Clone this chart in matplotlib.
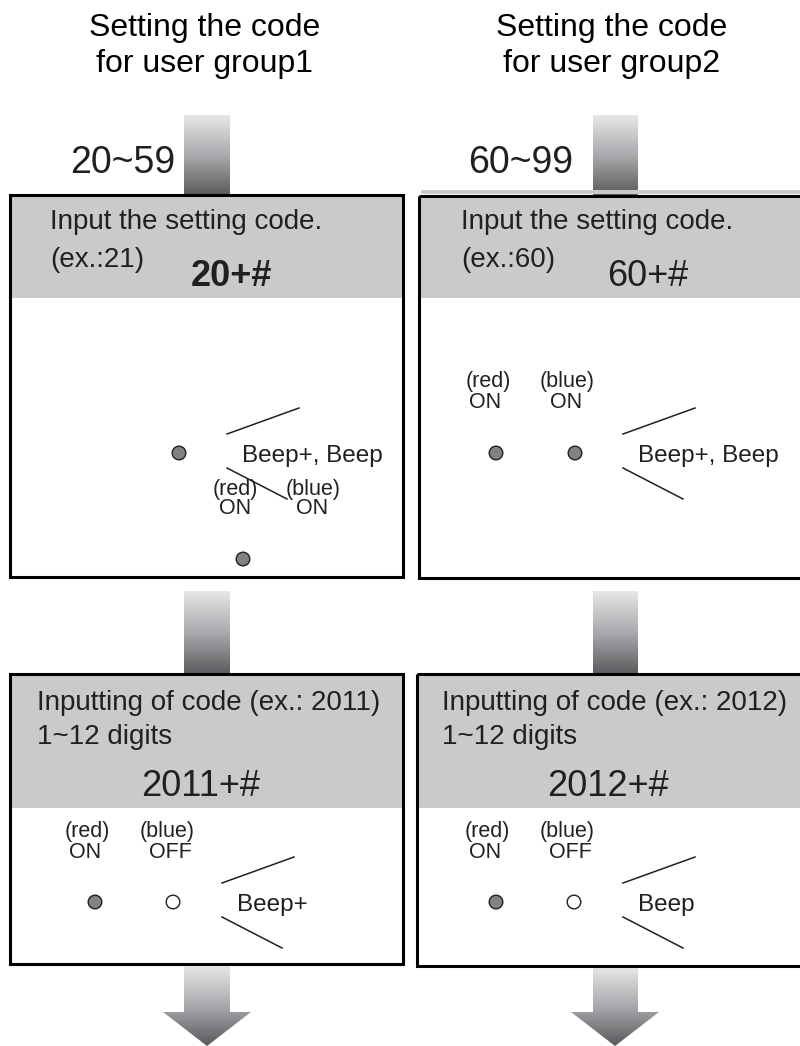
import matplotlib.pyplot as plt
import numpy as np
from matplotlib.patches import Rectangle, Polygon, Circle
from matplotlib.colors import LinearSegmentedColormap

# Texts of the two flows (group1 left, group2 right)
titles = ["Setting the code\nfor user group1", "Setting the code\nfor user group2"]
code_ranges = ["20~59", "60~99"]
step1_prompt = ["Input the setting code.", "Input the setting code."]
step1_example = ["(ex.:21)", "(ex.:60)"]
step1_keys = ["20+#", "60+#"]
step1_sound = ["Beep+, Beep", "Beep+, Beep"]
step2_prompt = ["Inputting of code (ex.: 2011)", "Inputting of code (ex.: 2012)"]
step2_digits = ["1~12 digits", "1~12 digits"]
step2_keys = ["2011+#", "2012+#"]
step2_sound = ["Beep+", "Beep"]
led_names = ["(red)", "(blue)"]
step1_led = [["ON", "ON"], ["ON", "ON"]]
step2_led = [["ON", "OFF"], ["ON", "OFF"]]

TXT = '#231f20'
HEAD = '#c8cacc'
FONT = ['Liberation Sans', 'DejaVu Sans']
grad_cmap = LinearSegmentedColormap.from_list('arrow', ['#e6e7e8', '#a7a9ac', '#58595b'])

fig = plt.figure(figsize=(8, 10.46), dpi=100)
ax = fig.add_axes([0, 0, 1, 1])
ax.axis('off')


def gradient_shape(verts):
    """Fill a polygon with a vertical light-to-dark gradient"""
    poly = Polygon(verts, closed=True, fc='none', ec='none')
    ax.add_patch(poly)
    xs = [v[0] for v in verts]
    ys = [v[1] for v in verts]
    grad = np.linspace(0, 1, 256).reshape(-1, 1)
    im = ax.imshow(grad, cmap=grad_cmap, aspect='auto', zorder=1,
                   extent=(min(xs), max(xs), max(ys), min(ys)))
    im.set_clip_path(poly)


def stem(x0, x1, y0, y1):
    gradient_shape([(x0, y0), (x1, y0), (x1, y1), (x0, y1)])


def down_arrow(x0, x1, hx0, hx1, y0, yh, y1):
    cx = (hx0 + hx1) / 2
    gradient_shape([(x0, y0), (x1, y0), (x1, yh), (hx1, yh), (cx, y1),
                    (hx0, yh), (x0, yh)])


def panel(x0, x1, y0, y1, yh):
    ax.add_patch(Rectangle((x0, y0), x1 - x0, yh - y0, fc=HEAD, ec='none', zorder=2))
    ax.add_patch(Rectangle((x0, y0), x1 - x0, y1 - y0, fc='none', ec='black',
                           lw=2.2, zorder=4))


def led(x, y, state):
    fc = '#808285' if state == 'ON' else 'white'
    ax.add_patch(Circle((x, y), 6.8, fc=fc, ec='#231f20', lw=1.0, zorder=5))


def beep(x, y, label):
    ax.plot([x, x + 72], [y - 22, y - 48], color=TXT, lw=1.1, zorder=5)
    ax.plot([x, x + 60], [y + 12, y + 43], color=TXT, lw=1.1, zorder=5)
    ax.text(x + 15, y, label, fontsize=17.5, color=TXT, family=FONT,
            ha='left', va='center', zorder=6)


def say(x, y, s, size, ha='left', **kw):
    ax.text(x, y, s, fontsize=size, color=TXT, family=FONT, ha=ha, va='center',
            zorder=6, **kw)


# titles
for cx, t in zip([205, 612], titles):
    ax.text(cx, 46, t, fontsize=23, color='black', ha='center', va='center',
            linespacing=1.3, family=FONT)

# arrows into the first panels
stem(184, 230, 115, 196)
stem(593, 638, 115, 196)
say(70, 163, code_ranges[0], 27)
say(468, 163, code_ranges[1], 27)

# light strip above right panel
ax.add_patch(Rectangle((421, 190), 390, 4, fc='#c8cacc', ec='none', zorder=1))

# step 1 panels
panel(10, 403, 195, 577, 298)
panel(419, 812, 196, 578, 298)

say(50, 222, step1_prompt[0], 20)
say(50, 260, step1_example[0], 20)
say(231, 276, step1_keys[0], 26, ha='center', fontweight='bold')
say(461, 222, step1_prompt[1], 20)
say(461, 260, step1_example[1], 20)
say(648, 276, step1_keys[1], 26, ha='center')

# group1 step1 body (as drawn in the original)
say(235, 489, led_names[0], 15.5, ha='center')
say(235, 509, step1_led[0][0], 15.5, ha='center')
say(313, 489, led_names[1], 15.5, ha='center')
say(312, 509, step1_led[0][1], 15.5, ha='center')
led(179, 453, step1_led[0][0])
led(243, 559, step1_led[0][1])
beep(227, 456, step1_sound[0])

# group2 step1 body
say(488, 382, led_names[0], 15.5, ha='center')
say(485, 402, step1_led[1][0], 15.5, ha='center')
say(567, 382, led_names[1], 15.5, ha='center')
say(566, 402, step1_led[1][1], 15.5, ha='center')
led(496, 453, step1_led[1][0])
led(575, 453, step1_led[1][1])
beep(623, 456, step1_sound[1])

# arrows into the second panels
stem(184, 230, 591, 675)
stem(593, 638, 591, 675)

# step 2 panels
panel(10, 403, 674, 964, 808)
panel(417, 812, 674, 966, 808)

for i, x0 in enumerate([37, 442]):
    say(x0, 703, step2_prompt[i], 20)
    say(x0, 737, step2_digits[i], 20)
say(201, 787, step2_keys[0], 26, ha='center')
say(608, 787, step2_keys[1], 26, ha='center')

for i, (rx, bx, dx0, dx1, bpx) in enumerate([(87, 167, 95, 173, 222),
                                              (487, 567, 496, 574, 623)]):
    say(rx, 832, led_names[0], 15.5, ha='center')
    say(rx - 2, 852, step2_led[i][0], 15.5, ha='center')
    say(bx, 832, led_names[1], 15.5, ha='center')
    say(bx + 3, 852, step2_led[i][1], 15.5, ha='center')
    led(dx0, 902, step2_led[i][0])
    led(dx1, 902, step2_led[i][1])
    beep(bpx, 905, step2_sound[i])

# outgoing arrows
down_arrow(184, 230, 163, 251, 966, 1012, 1046)
down_arrow(593, 638, 571, 659, 967, 1012, 1046)

ax.set_xlim(0, 800)
ax.set_ylim(1046, 0)

fig.savefig('out.png', dpi=100)
